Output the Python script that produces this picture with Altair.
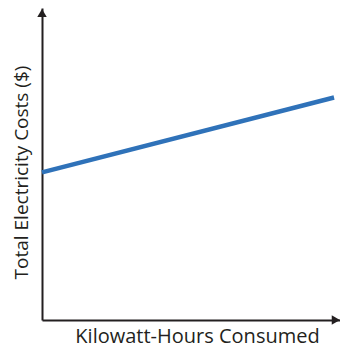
import altair as alt
import pandas as pd

# data
kwh = [0, 98]
cost = [47.3, 71.3]
x_title = "Kilowatt-Hours Consumed"
y_title = "Total Electricity Costs ($)"

# arrow heads at axis ends
arrow_x = [0, 98.6]
arrow_y = [98.4, 0]
arrow_shape = ["triangle-up", "triangle-right"]

line_df = pd.DataFrame({"x": kwh, "y": cost})
arrow_df = pd.DataFrame({"x": arrow_x, "y": arrow_y, "shape": arrow_shape})

FONT = "Open Sans"
AXIS_COLOR = "#231f20"

xscale = alt.Scale(domain=[0, 100], nice=False, zero=False)
yscale = alt.Scale(domain=[0, 100], nice=False, zero=False)

x_axis = alt.Axis(
    title=x_title, labels=False, ticks=False, grid=False,
    domainColor=AXIS_COLOR, domainWidth=2.2,
    titleFont=FONT, titleFontSize=20, titleFontWeight="normal", titleColor="#231f20",
    titleX=155, titleY=16, titleAlign="center", titleBaseline="middle",
)
y_axis = alt.Axis(
    title=y_title, labels=False, ticks=False, grid=False,
    domainColor=AXIS_COLOR, domainWidth=2,
    titleFont=FONT, titleFontSize=19, titleFontWeight="normal", titleColor="#231f20",
    titleX=-21, titleY=164, titleAngle=270, titleAlign="center", titleBaseline="middle",
)

line = alt.Chart(line_df).mark_line(color="#2f72b9", strokeWidth=4.5, clip=False).encode(
    x=alt.X("x:Q", scale=xscale, axis=x_axis),
    y=alt.Y("y:Q", scale=yscale, axis=y_axis),
)

arrows = alt.Chart(arrow_df).mark_point(filled=True, color=AXIS_COLOR, size=90, opacity=1, clip=False).encode(
    x=alt.X("x:Q", scale=xscale),
    y=alt.Y("y:Q", scale=yscale),
    shape=alt.Shape("shape:N", scale=None, legend=None),
)

chart = (
    alt.layer(arrows, line)
    .properties(
        width=298, height=312,
        autosize=alt.AutoSizeParams(type="none"),
        padding={"left": 34, "top": 0, "right": 0, "bottom": 27},
        background="white",
    )
    .configure_view(stroke=None)
)

chart.save("out.html", embed_options={"renderer": "svg", "actions": False})
